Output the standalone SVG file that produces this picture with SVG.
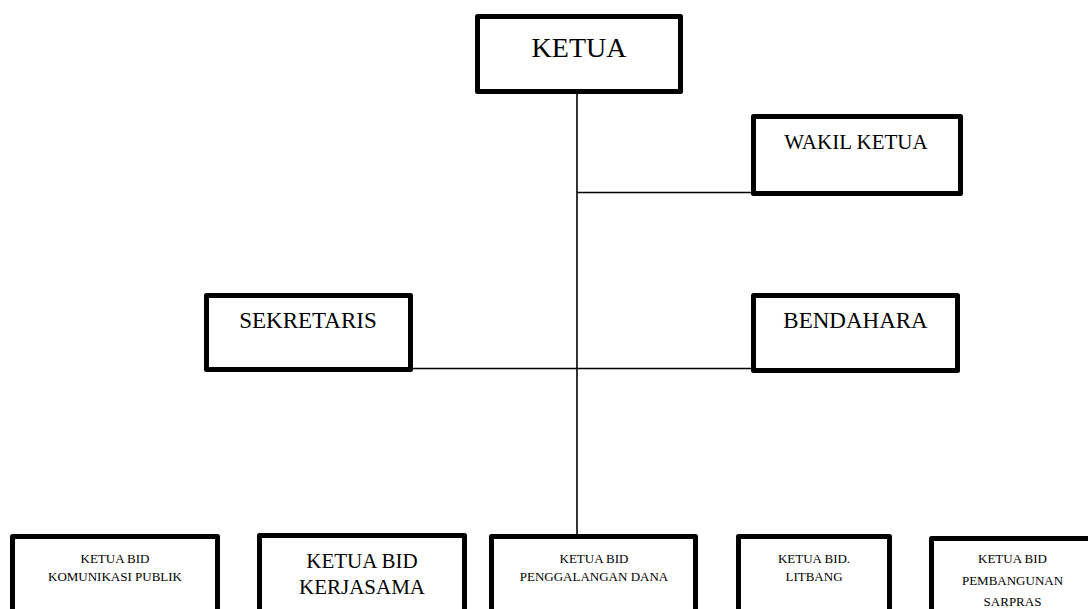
<svg xmlns="http://www.w3.org/2000/svg" width="1088" height="609" viewBox="0 0 1088 609">
<style>
.box{fill:#fff;stroke:#000;stroke-width:5;stroke-linejoin:round}
.ln{stroke:#000;stroke-width:1.6;fill:none}
text{font-family:"Liberation Serif","Times New Roman",serif;fill:#000;text-anchor:middle}
.s{font-size:13px}
</style>
<rect width="1088" height="609" fill="#fff"/>
<g id="connectors">
<line class="ln" x1="577" y1="94" x2="577" y2="534"/>
<line class="ln" x1="577" y1="192.5" x2="752" y2="192.5"/>
<line class="ln" x1="413" y1="368.5" x2="752" y2="368.5"/>
</g>
<g id="ketua">
<rect class="box" x="477.5" y="16.5" width="203" height="75"/>
<text x="579" y="57" font-size="28">KETUA</text>
</g>
<g id="wakil-ketua">
<rect class="box" x="753.5" y="116.5" width="207" height="77"/>
<text x="856" y="149" font-size="21">WAKIL KETUA</text>
</g>
<g id="sekretaris">
<rect class="box" x="206.5" y="295.5" width="204" height="74"/>
<text x="308" y="328" font-size="23">SEKRETARIS</text>
</g>
<g id="bendahara">
<rect class="box" x="753.5" y="295.5" width="204" height="75"/>
<text x="855.5" y="328" font-size="23">BENDAHARA</text>
</g>
<g id="bid-komunikasi">
<rect class="box" x="12.5" y="536.5" width="205" height="100"/>
<text class="s" x="115" y="563">KETUA BID</text>
<text class="s" x="115" y="581">KOMUNIKASI PUBLIK</text>
</g>
<g id="bid-kerjasama">
<rect class="box" x="259.5" y="535.5" width="205" height="100"/>
<text x="362" y="568" font-size="21">KETUA BID</text>
<text x="362" y="594" font-size="21">KERJASAMA</text>
</g>
<g id="bid-penggalangan">
<rect class="box" x="491.5" y="536.5" width="204" height="100"/>
<text class="s" x="594" y="563">KETUA BID</text>
<text class="s" x="594" y="581">PENGGALANGAN DANA</text>
</g>
<g id="bid-litbang">
<rect class="box" x="738.5" y="536.5" width="151" height="100"/>
<text class="s" x="814" y="563">KETUA BID.</text>
<text class="s" x="814" y="581">LITBANG</text>
</g>
<g id="bid-sarpras">
<rect class="box" x="931.5" y="538.5" width="162" height="100"/>
<text class="s" x="1012.5" y="563">KETUA BID</text>
<text class="s" x="1012.5" y="584.5">PEMBANGUNAN</text>
<text class="s" x="1012.5" y="606">SARPRAS</text>
</g>
</svg>
